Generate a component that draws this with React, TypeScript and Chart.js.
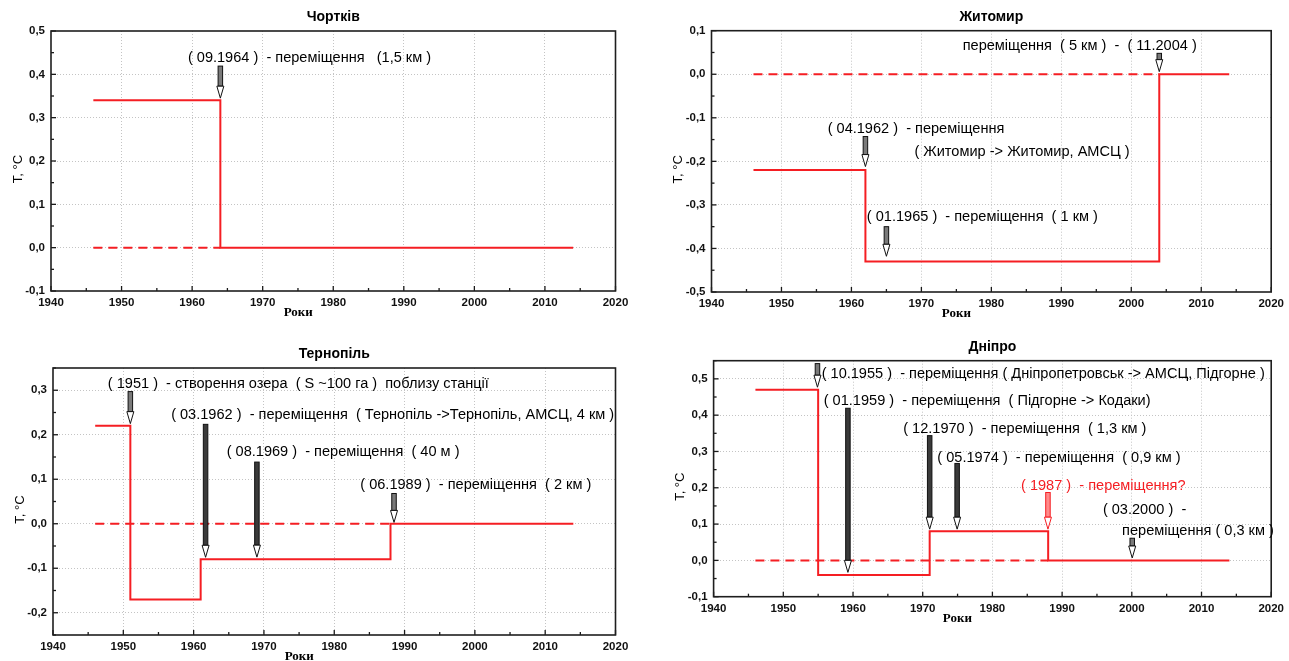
import React, { useEffect, useRef } from "react";
import { Chart, registerables } from "chart.js";
Chart.register(...registerables);

// ---------- DATA ----------
// Чортків
const chortkivBreaks = [1946, 1964, 2014];
const chortkivLevels = [0.34, 0.0];
const chortkivDashed = [1946, 1964];
// Житомир
const zhytomyrBreaks = [1946, 1962, 2004, 2014];
const zhytomyrLevels = [-0.22, -0.43, 0.0];
const zhytomyrDashed = [1946, 2004];
// Тернопіль
const ternopilBreaks = [1946, 1951, 1961, 1988, 2014];
const ternopilLevels = [0.22, -0.17, -0.08, 0.0];
const ternopilDashed = [1946, 1988];
// Дніпро
const dniproBreaks = [1946, 1955, 1971, 1988, 2014];
const dniproLevels = [0.47, -0.04, 0.08, 0.0];
const dniproDashed = [1946, 1988];

const yearRange = [1940, 2020];
const chortkivYRange = [-0.1, 0.5];
const zhytomyrYRange = [-0.5, 0.1];
const ternopilYRange = [-0.25, 0.35];
const dniproYRange = [-0.1, 0.55];

// annotation texts (x = year where text starts, y = value at text middle)
const chortkivNotes = [
  { text: "( 09.1964 )  - переміщення   (1,5 км )", x: 1959.4, y: 0.437 },
];
const chortkivArrows = [{ x: 1964, top: 0.419, tip: 0.345 }];

const zhytomyrNotes = [
  { text: "переміщення  ( 5 км )  -  ( 11.2004 )", x: 1975.9, y: 0.0656 },
  { text: "( 04.1962 )  - переміщення", x: 1956.6, y: -0.126 },
  { text: "( Житомир -> Житомир, АМСЦ )", x: 1969.0, y: -0.18 },
  { text: "( 01.1965 )  - переміщення  ( 1 км )", x: 1962.2, y: -0.327 },
];
const zhytomyrArrows = [
  { x: 2004, top: 0.048, tip: 0.006 },
  { x: 1962, top: -0.143, tip: -0.212 },
  { x: 1965, top: -0.35, tip: -0.418 },
];

const ternopilNotes = [
  { text: "( 1951 )  - створення озера  ( S ~100 га )  поблизу станції", x: 1947.8, y: 0.3135 },
  { text: "( 03.1962 )  - переміщення  ( Тернопіль ->Тернопіль, АМСЦ, 4 км )", x: 1956.8, y: 0.2437 },
  { text: "( 08.1969 )  - переміщення  ( 40 м )", x: 1964.7, y: 0.16 },
  { text: "( 06.1989 )  - переміщення  ( 2 км )", x: 1983.7, y: 0.0868 },
];
const ternopilArrows = [
  { x: 1951, top: 0.297, tip: 0.225 },
  { x: 1961.7, top: 0.2234, tip: -0.0754 },
  { x: 1969, top: 0.1386, tip: -0.075 },
  { x: 1988.5, top: 0.068, tip: 0.003 },
];

const dniproNotes = [
  { text: "( 10.1955 )  - переміщення ( Дніпропетровськ -> АМСЦ, Підгорне )", x: 1955.5, y: 0.513 },
  { text: "( 01.1959 )  - переміщення  ( Підгорне -> Кодаки)", x: 1955.8, y: 0.438 },
  { text: "( 12.1970 )  - переміщення  ( 1,3 км )", x: 1967.2, y: 0.3627 },
  { text: "( 05.1974 )  - переміщення  ( 0,9 км )", x: 1972.1, y: 0.282 },
  { text: "( 1987 )  - переміщення?", x: 1984.1, y: 0.2055, red: true },
  { text: "( 03.2000 )  -", x: 1995.85, y: 0.139 },
  { text: "переміщення ( 0,3 км )", x: 1998.6, y: 0.0814 },
];
const dniproArrows = [
  { x: 1954.9, top: 0.542, tip: 0.477 },
  { x: 1959.27, top: 0.419, tip: -0.033 },
  { x: 1971, top: 0.3436, tip: 0.086 },
  { x: 1974.94, top: 0.267, tip: 0.086 },
  { x: 1987.97, top: 0.187, tip: 0.086, red: true },
  { x: 2000.06, top: 0.061, tip: 0.0066 },
];

// ---------- STYLE / LAYOUT ----------
const RED = "rgb(245,30,35)";
const SANS = '"Liberation Sans", Arial, sans-serif';

type Panel = {
  title: string;
  breaks: number[];
  levels: number[];
  dashed: number[];
  yRange: number[];
  notes: { text: string; x: number; y: number; red?: boolean }[];
  arrows: { x: number; top: number; tip: number; red?: boolean }[];
  canvas: { l: number; t: number; w: number; h: number };
  plot: { l: number; t: number; r: number; b: number };
};

const panels: Panel[] = [
  {
    title: "Чортків", breaks: chortkivBreaks, levels: chortkivLevels, dashed: chortkivDashed,
    yRange: chortkivYRange, notes: chortkivNotes, arrows: chortkivArrows,
    canvas: { l: 0, t: 0, w: 645, h: 330 }, plot: { l: 51, t: 31, r: 615.5, b: 291 },
  },
  {
    title: "Житомир", breaks: zhytomyrBreaks, levels: zhytomyrLevels, dashed: zhytomyrDashed,
    yRange: zhytomyrYRange, notes: zhytomyrNotes, arrows: zhytomyrArrows,
    canvas: { l: 645, t: 0, w: 644, h: 330 }, plot: { l: 711.5, t: 30.7, r: 1275.4, b: 292 },
  },
  {
    title: "Тернопіль", breaks: ternopilBreaks, levels: ternopilLevels, dashed: ternopilDashed,
    yRange: ternopilYRange, notes: ternopilNotes, arrows: ternopilArrows,
    canvas: { l: 0, t: 330, w: 645, h: 331 }, plot: { l: 53, t: 368, r: 615.5, b: 635 },
  },
  {
    title: "Дніпро", breaks: dniproBreaks, levels: dniproLevels, dashed: dniproDashed,
    yRange: dniproYRange, notes: dniproNotes, arrows: dniproArrows,
    canvas: { l: 645, t: 330, w: 644, h: 331 }, plot: { l: 713.6, t: 360.7, r: 1275.6, b: 596.7 },
  },
];

const isMajor = (v: number, unit: number) => Math.abs(v / unit - Math.round(v / unit)) < 1e-6;

function stretchedText(ctx: CanvasRenderingContext2D, text: string, x: number, y: number, sx: number) {
  ctx.save();
  ctx.translate(x, y);
  ctx.scale(sx, 1);
  ctx.fillText(text, 0, 0);
  ctx.restore();
}

function drawArrow(ctx: CanvasRenderingContext2D, px: number, yTop: number, yTip: number, red?: boolean) {
  const headH = 12, headW = 7, shaftW = 4.5;
  const stroke = red ? RED : "#111";
  const long = yTip - yTop > 45;
  const fill = red ? "#ff8a8a" : long ? "#3a3a3a" : "#7a7a7a";
  ctx.save();
  ctx.lineWidth = 1;
  ctx.strokeStyle = stroke;
  const shaftBottom = yTip - headH;
  if (shaftBottom > yTop) {
    ctx.fillStyle = fill;
    ctx.fillRect(px - shaftW / 2, yTop, shaftW, shaftBottom - yTop);
    ctx.strokeRect(px - shaftW / 2, yTop, shaftW, shaftBottom - yTop);
  }
  ctx.beginPath();
  ctx.moveTo(px - headW / 2, shaftBottom);
  ctx.lineTo(px + headW / 2, shaftBottom);
  ctx.lineTo(px, yTip);
  ctx.closePath();
  ctx.fillStyle = "#fff";
  ctx.fill();
  ctx.stroke();
  ctx.restore();
}

function makeChart(canvas: HTMLCanvasElement, p: Panel) {
  const { canvas: c, plot } = p;
  const yAxisW = plot.l - c.l;
  const xAxisH = c.t + c.h - plot.b;
  const padTop = plot.t - c.t;
  const padRight = c.l + c.w - plot.r;

  const stepPts = p.breaks.map((x, i) => ({ x, y: p.levels[Math.min(i, p.levels.length - 1)] }));
  const dashPts = p.dashed.map((x) => ({ x, y: 0 }));

  const decor = {
    id: "decor",
    afterDraw(chart: any) {
      const { ctx, chartArea: a, scales } = chart;
      const xs = scales.x, ys = scales.y;
      ctx.save();
      // ticks (inward)
      ctx.strokeStyle = "#1a1a1a";
      ctx.lineWidth = 1.3;
      for (const t of xs.ticks) {
        const px = xs.getPixelForValue(t.value);
        const len = isMajor(t.value, 10) ? 5 : 3;
        ctx.beginPath();
        ctx.moveTo(px, a.bottom);
        ctx.lineTo(px, a.bottom - len);
        ctx.stroke();
      }
      for (const t of ys.ticks) {
        const py = ys.getPixelForValue(t.value);
        const len = isMajor(t.value, 0.1) ? 5 : 3;
        ctx.beginPath();
        ctx.moveTo(a.left, py);
        ctx.lineTo(a.left + len, py);
        ctx.stroke();
      }
      // frame
      ctx.lineWidth = 1.6;
      ctx.strokeStyle = "#1e1e1e";
      ctx.strokeRect(a.left, a.top, a.right - a.left, a.bottom - a.top);

      // arrows
      for (const ar of p.arrows) {
        drawArrow(ctx, xs.getPixelForValue(ar.x), ys.getPixelForValue(ar.top), ys.getPixelForValue(ar.tip), ar.red);
      }
      // notes
      ctx.textBaseline = "middle";
      ctx.textAlign = "left";
      ctx.font = `14px ${SANS}`;
      for (const n of p.notes) {
        ctx.fillStyle = n.red ? RED : "#000";
        stretchedText(ctx, n.text, xs.getPixelForValue(n.x), ys.getPixelForValue(n.y), 1.04);
      }
      // title
      const cx = (a.left + a.right) / 2;
      ctx.textAlign = "center";
      ctx.fillStyle = "#000";
      ctx.font = `bold 14px ${SANS}`;
      ctx.fillText(p.title, cx, a.top - 14);
      // x title
      ctx.font = 'bold 13px "Liberation Serif", serif';
      ctx.fillText("Роки", cx - 35, a.bottom + 22);
      // y title
      ctx.save();
      ctx.translate(a.left - 33, (a.top + a.bottom) / 2 + 8);
      ctx.rotate(-Math.PI / 2);
      ctx.font = `13px ${SANS}`;
      ctx.fillText("T, °C", 0, 0);
      ctx.restore();
      ctx.restore();
    },
  };

  const tickFont = { family: SANS, size: 11.5, weight: "bold" as const };

  return new Chart(canvas, {
    type: "line",
    data: {
      datasets: [
        {
          data: stepPts,
          stepped: "before",
          borderColor: RED,
          borderWidth: 2,
          pointRadius: 0,
          fill: false,
          tension: 0,
        },
        {
          data: dashPts,
          borderColor: RED,
          borderWidth: 2,
          borderDash: [9, 6],
          pointRadius: 0,
          fill: false,
        },
      ],
    },
    options: {
      animation: false,
      responsive: false,
      events: [],
      layout: { padding: { left: 0, top: padTop, right: padRight, bottom: 0 } },
      plugins: { legend: { display: false }, tooltip: { enabled: false }, title: { display: false } },
      scales: {
        x: {
          type: "linear",
          min: yearRange[0],
          max: yearRange[1],
          afterFit: (s: any) => { s.height = xAxisH; },
          grid: {
            drawTicks: false,
            color: (ctx: any) => {
              const v = ctx.tick?.value;
              if (v === undefined || v <= yearRange[0] || v >= yearRange[1]) return "rgba(0,0,0,0)";
              return isMajor(v, 10) ? "#c4c4c4" : "rgba(0,0,0,0)";
            },
            lineWidth: 1,
          },
          border: { display: false, dash: [1, 2] },
          ticks: {
            stepSize: 5,
            autoSkip: false,
            maxRotation: 0,
            padding: 5,
            color: "#111",
            font: tickFont,
            callback: (v: any) => (isMajor(Number(v), 10) ? String(Math.round(Number(v))) : ""),
          },
        },
        y: {
          type: "linear",
          min: p.yRange[0],
          max: p.yRange[1],
          afterFit: (s: any) => { s.width = yAxisW; },
          grid: {
            drawTicks: false,
            color: (ctx: any) => {
              const v = ctx.tick?.value;
              if (v === undefined || Math.abs(v - p.yRange[0]) < 1e-6 || Math.abs(v - p.yRange[1]) < 1e-6) return "rgba(0,0,0,0)";
              return isMajor(v, 0.1) ? "#c4c4c4" : "rgba(0,0,0,0)";
            },
            lineWidth: 1,
          },
          border: { display: false, dash: [1, 2] },
          ticks: {
            stepSize: 0.05,
            autoSkip: false,
            padding: 6,
            color: "#111",
            font: tickFont,
            callback: (v: any) => {
              const n = Number(v);
              if (!isMajor(n, 0.1)) return "";
              return (Math.round(n * 10) / 10).toFixed(1).replace(".", ",");
            },
          },
        },
      },
    },
    plugins: [decor],
  } as any);
}

export default function App() {
  const refs = useRef<(HTMLCanvasElement | null)[]>([]);
  useEffect(() => {
    const charts = panels.map((p, i) => makeChart(refs.current[i] as HTMLCanvasElement, p));
    return () => charts.forEach((c) => c.destroy());
  }, []);
  return (
    <div style={{ position: "absolute", left: 0, top: 0, width: 1289, height: 661, background: "#fff", overflow: "hidden" }}>
      {panels.map((p, i) => (
        <canvas
          key={p.title}
          ref={(el) => { refs.current[i] = el; }}
          width={p.canvas.w}
          height={p.canvas.h}
          style={{ position: "absolute", left: p.canvas.l, top: p.canvas.t, width: p.canvas.w, height: p.canvas.h }}
        />
      ))}
    </div>
  );
}
